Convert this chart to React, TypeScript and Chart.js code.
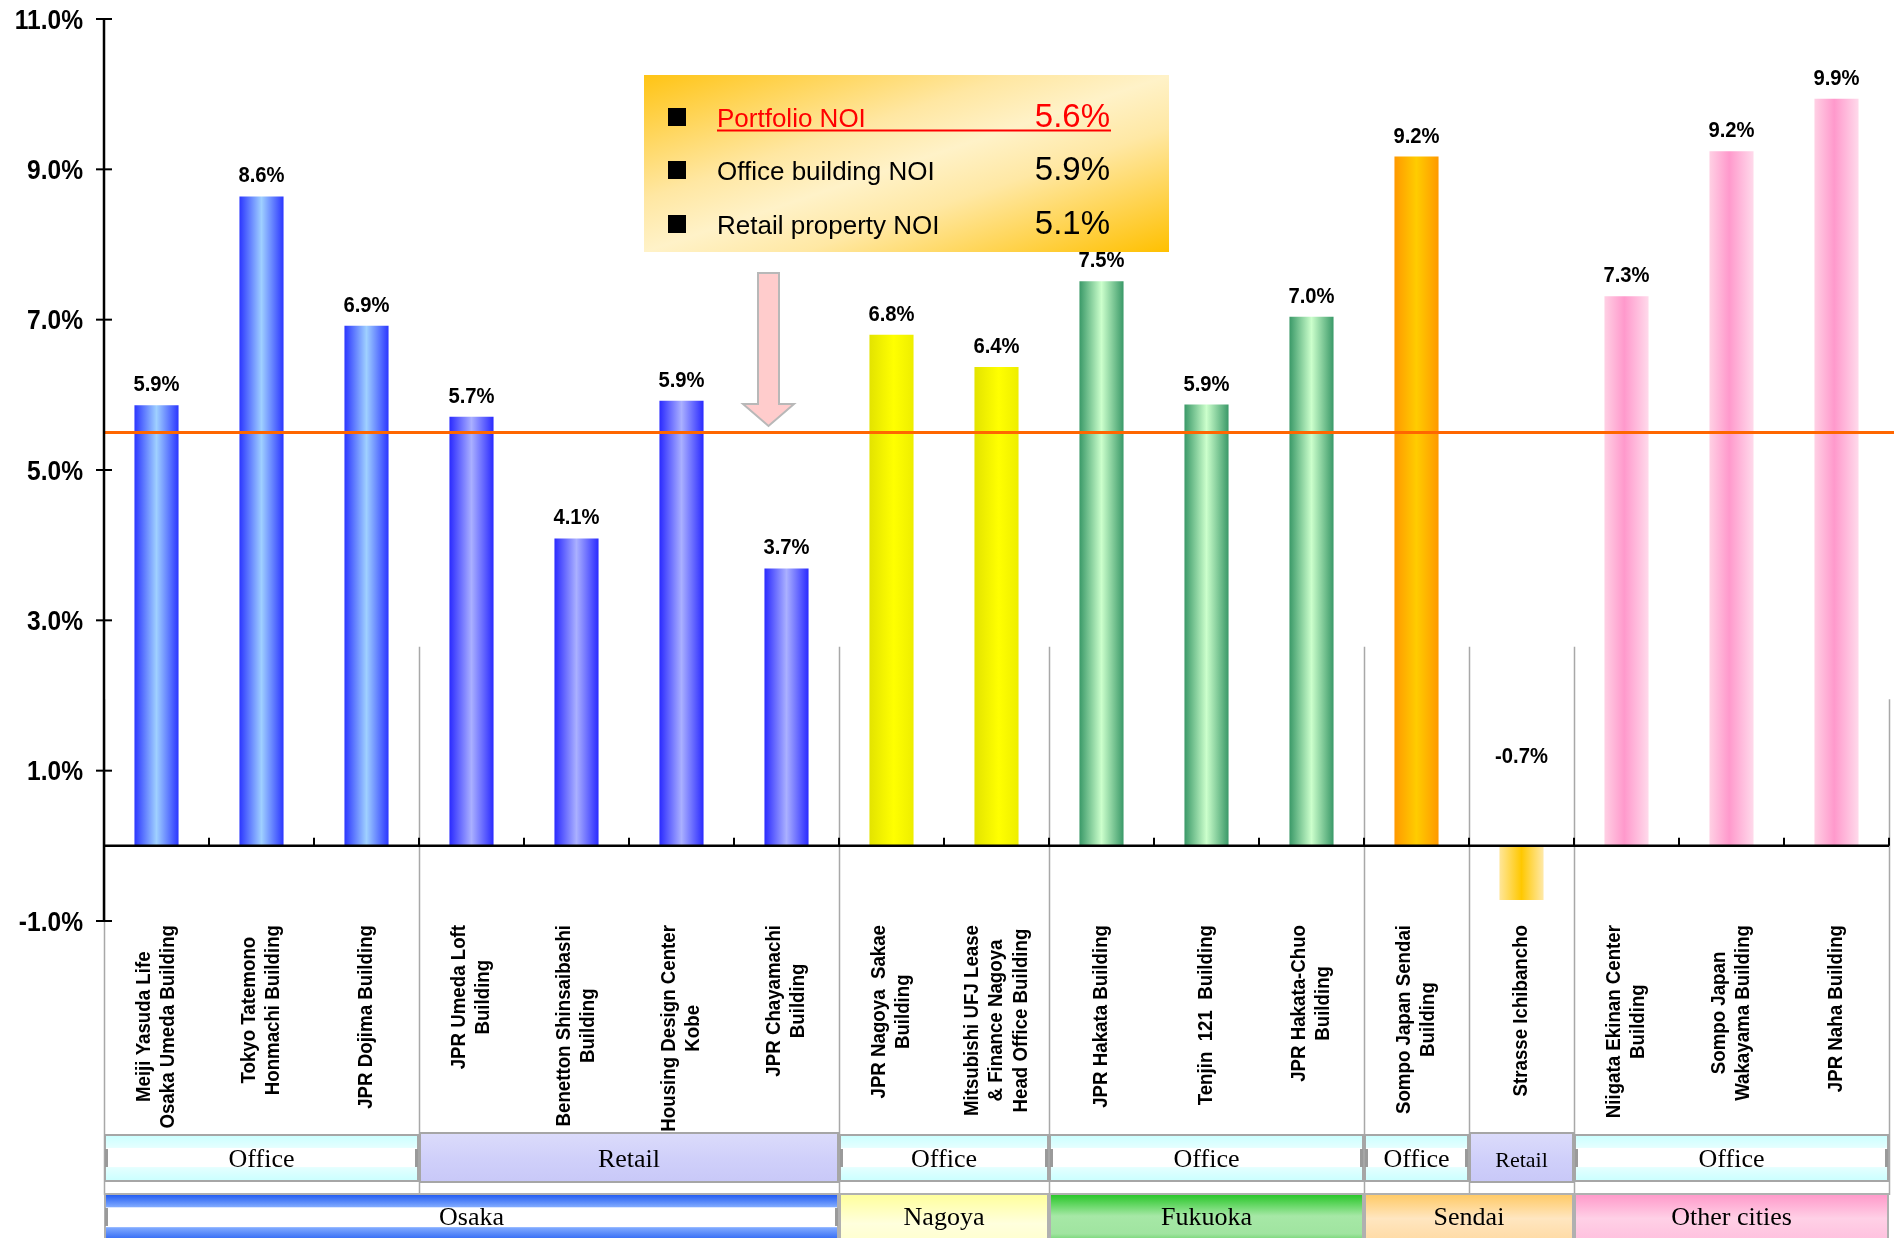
import React, { useEffect, useRef } from 'react';
import { Chart, registerables } from 'chart.js';

Chart.register(...registerables);

// ---------------- data ----------------
const propertyNames: string[][] = [
  ['Meiji Yasuda Life', 'Osaka Umeda Building'],
  ['Tokyo Tatemono', 'Honmachi Building'],
  ['JPR Dojima Building'],
  ['JPR Umeda Loft', 'Building'],
  ['Benetton Shinsaibashi', 'Building'],
  ['Housing Design Center', 'Kobe'],
  ['JPR Chayamachi', 'Building'],
  ['JPR Nagoya  Sakae', 'Building'],
  ['Mitsubishi UFJ Lease', '& Finance Nagoya', 'Head Office Building'],
  ['JPR Hakata Building'],
  ['Tenjin  121  Building'],
  ['JPR Hakata-Chuo', 'Building'],
  ['Sompo Japan Sendai', 'Building'],
  ['Strasse Ichibancho'],
  ['Niigata Ekinan Center', 'Building'],
  ['Sompo Japan', 'Wakayama Building'],
  ['JPR Naha Building'],
];
const noiYields = [5.86, 8.64, 6.92, 5.71, 4.09, 5.92, 3.69, 6.8, 6.37, 7.51, 5.87, 7.04, 9.17, -0.72, 7.31, 9.24, 9.94];
const yTickValues = [11, 9, 7, 5, 3, 1, -1];
const portfolioLineValue = 5.5;
const typeLabels = ['Office', 'Retail', 'Office', 'Office', 'Office', 'Retail', 'Office'];
const typeRanges: [number, number][] = [[0, 3], [3, 7], [7, 9], [9, 12], [12, 13], [13, 14], [14, 17]];
const regionLabels = ['Osaka', 'Nagoya', 'Fukuoka', 'Sendai', 'Other cities'];
const regionRanges: [number, number][] = [[0, 7], [7, 9], [9, 12], [12, 14], [14, 17]];
const summaryLabels = ['Portfolio NOI', 'Office building NOI', 'Retail property NOI'];
const summaryValues = ['5.6%', '5.9%', '5.1%'];

// ---------------- styles ----------------
const SANS = '"Liberation Sans", Arial, Helvetica, sans-serif';
const SERIF = '"Liberation Serif", "Times New Roman", serif';

type Grad = [number, string][];
const G_OSAKA_OFFICE: Grad = [[0, '#2b36ff'], [0.5, '#9fd0ff'], [1, '#2b36ff']];
const G_OSAKA_RETAIL: Grad = [[0, '#2a2aff'], [0.5, '#aab0ff'], [1, '#2a2aff']];
const G_NAGOYA: Grad = [[0, '#e3e300'], [0.55, '#ffff00'], [1, '#eeee00']];
const G_FUKUOKA: Grad = [[0, '#3a9968'], [0.5, '#ccffcc'], [1, '#3a9968']];
const G_SENDAI: Grad = [[0, '#ff9900'], [0.5, '#ffcc00'], [1, '#ff9900']];
const G_STRASSE: Grad = [[0, '#ffe699'], [0.5, '#ffc800'], [1, '#ffe9a8']];
const G_OTHER: Grad = [[0, '#ffd0e4'], [0.45, '#ff99cc'], [1, '#ffdaeb']];
const barGradients: Grad[] = [
  G_OSAKA_OFFICE, G_OSAKA_OFFICE, G_OSAKA_OFFICE,
  G_OSAKA_RETAIL, G_OSAKA_RETAIL, G_OSAKA_RETAIL, G_OSAKA_RETAIL,
  G_NAGOYA, G_NAGOYA,
  G_FUKUOKA, G_FUKUOKA, G_FUKUOKA,
  G_SENDAI, G_STRASSE,
  G_OTHER, G_OTHER, G_OTHER,
];
const BAR_PCT = 0.42;

const typeBoxStyles: Record<string, { stops: Grad; y0: number; y1: number; size: number }> = {
  Office: {
    stops: [[0, '#c8ffff'], [0.28, '#e4ffff'], [0.3, '#ffffff'], [0.68, '#ffffff'], [0.7, '#e4ffff'], [1, '#c8ffff']],
    y0: 1134, y1: 1182, size: 26,
  },
  Retail: {
    stops: [[0, '#dcdcfb'], [0.5, '#d0d0fa'], [1, '#c8c8f8']],
    y0: 1132, y1: 1183, size: 26,
  },
};
const regionBoxStyles: Grad[] = [
  [[0, '#1450f0'], [0.27, '#80aaff'], [0.29, '#ffffff'], [0.66, '#ffffff'], [0.68, '#80aaff'], [1, '#1450f0']],
  [[0, '#ffff99'], [0.6, '#ffffdd'], [1, '#ffffcc']],
  [[0, '#1ec41e'], [0.45, '#a6e8a6'], [0.8, '#a0e4a0'], [1, '#55cc55']],
  [[0, '#ffc860'], [0.5, '#ffe6c0'], [1, '#ffd9a0']],
  [[0, '#ff96c8'], [0.5, '#ffd0e6'], [1, '#ffbedd']],
];

function fillScaled(ctx: CanvasRenderingContext2D, text: string, x: number, y: number, sx: number, align: CanvasTextAlign) {
  ctx.save();
  ctx.translate(x, y);
  ctx.scale(sx, 1);
  ctx.textAlign = align;
  ctx.textBaseline = 'alphabetic';
  ctx.fillText(text, 0, 0);
  ctx.restore();
}

function drawBox(ctx: CanvasRenderingContext2D, x0: number, x1: number, y0: number, y1: number, stops: Grad, border: string) {
  const g = ctx.createLinearGradient(0, y0, 0, y1);
  stops.forEach(([o, c]) => g.addColorStop(o, c));
  ctx.fillStyle = g;
  ctx.fillRect(x0, y0, x1 - x0, y1 - y0);
  ctx.strokeStyle = border;
  ctx.lineWidth = 2;
  ctx.strokeRect(x0 + 1, y0 + 1, x1 - x0 - 2, y1 - y0 - 2);
}

const decorPlugin = {
  id: 'decor',
  beforeDatasetsDraw(chart: any) {
    const ctx: CanvasRenderingContext2D = chart.ctx;
    const xs = chart.scales.x;
    const ys = chart.scales.y;
    const innerTop = ys.getPixelForValue(2.65);
    const outerTop = ys.getPixelForValue(1.95);
    const bounds = new Set<number>();
    typeRanges.forEach(([a, b]) => { bounds.add(a); bounds.add(b); });
    ctx.save();
    ctx.strokeStyle = '#a8a8a8';
    ctx.lineWidth = 1.5;
    bounds.forEach((b) => {
      const x = Math.round(xs.getPixelForValue(b - 0.5)) + 0.5;
      const top = b === 0 || b === propertyNames.length ? outerTop : innerTop;
      ctx.beginPath();
      ctx.moveTo(x, top);
      ctx.lineTo(x, 1195);
      ctx.stroke();
    });
    ctx.restore();
  },
  afterDatasetsDraw(chart: any) {
    const ctx: CanvasRenderingContext2D = chart.ctx;
    const xs = chart.scales.x;
    const ys = chart.scales.y;
    const area = chart.chartArea;
    const n = propertyNames.length;
    const y0 = ys.getPixelForValue(0);
    ctx.save();

    // portfolio average line
    const ly = ys.getPixelForValue(portfolioLineValue);
    ctx.strokeStyle = '#ff6600';
    ctx.lineWidth = 3;
    ctx.beginPath();
    ctx.moveTo(area.left, ly);
    ctx.lineTo(chart.width, ly);
    ctx.stroke();

    // y axis
    ctx.strokeStyle = '#000';
    ctx.lineWidth = 2.5;
    ctx.beginPath();
    ctx.moveTo(area.left, ys.getPixelForValue(yTickValues[0]));
    ctx.lineTo(area.left, ys.getPixelForValue(yTickValues[yTickValues.length - 1]));
    ctx.stroke();
    ctx.lineWidth = 2;
    ctx.fillStyle = '#000';
    ctx.font = `bold 27px ${SANS}`;
    yTickValues.forEach((v) => {
      const py = ys.getPixelForValue(v);
      ctx.beginPath();
      ctx.moveTo(area.left - 8, py);
      ctx.lineTo(area.left + 8, py);
      ctx.stroke();
      fillScaled(ctx, `${v.toFixed(1)}%`, area.left - 21, py + 9.7, 0.91, 'right');
    });

    // zero axis
    ctx.lineWidth = 2.5;
    ctx.beginPath();
    ctx.moveTo(area.left, y0);
    ctx.lineTo(area.right, y0);
    ctx.stroke();
    ctx.lineWidth = 2;
    for (let i = 1; i <= n; i++) {
      const px = xs.getPixelForValue(i - 0.5);
      ctx.beginPath();
      ctx.moveTo(px, y0 - 8);
      ctx.lineTo(px, y0);
      ctx.stroke();
    }

    // value labels
    ctx.font = `bold 21.5px ${SANS}`;
    noiYields.forEach((v, i) => {
      const px = xs.getPixelForValue(i);
      const txt = `${v.toFixed(1)}%`;
      const by = v >= 0 ? ys.getPixelForValue(v) - 14 : ys.getPixelForValue(1.1);
      fillScaled(ctx, txt, px, by, 0.94, 'center');
    });

    // category labels (rotated)
    propertyNames.forEach((lines, i) => {
      const cx = xs.getPixelForValue(i);
      ctx.font = `bold 21px ${SANS}`;
      const maxW = Math.max(...lines.map((l) => ctx.measureText(l).width)) * 0.89;
      const yc = 925 + maxW / 2;
      lines.forEach((l, j) => {
        const bx = cx + (j - (lines.length - 1) / 2) * 24.5 + 5.5;
        ctx.save();
        ctx.translate(bx, yc);
        ctx.rotate(-Math.PI / 2);
        ctx.scale(0.89, 1);
        ctx.textAlign = 'center';
        ctx.textBaseline = 'alphabetic';
        ctx.fillText(l, 0, 0);
        ctx.restore();
      });
    });

    // type boxes
    typeRanges.forEach(([a, b], k) => {
      const st = typeBoxStyles[typeLabels[k]];
      const x0 = xs.getPixelForValue(a - 0.5);
      const x1 = xs.getPixelForValue(b - 0.5);
      drawBox(ctx, x0, x1, st.y0, st.y1, st.stops, '#a6a6a6');
      if (typeLabels[k] === 'Office') {
        ctx.fillStyle = '#9a9a9a';
        ctx.fillRect(x0 + 1, 1149, 3, 18);
        ctx.fillRect(x1 - 4, 1149, 3, 18);
      }
      ctx.fillStyle = '#000';
      const size = b - a === 1 && typeLabels[k] === 'Retail' ? 22 : st.size;
      ctx.font = `${size}px ${SERIF}`;
      ctx.textAlign = 'center';
      ctx.textBaseline = 'alphabetic';
      ctx.fillText(typeLabels[k], (x0 + x1) / 2, 1167);
    });

    // region boxes
    regionRanges.forEach(([a, b], k) => {
      const x0 = xs.getPixelForValue(a - 0.5);
      const x1 = xs.getPixelForValue(b - 0.5);
      drawBox(ctx, x0, x1, 1193, 1244, regionBoxStyles[k], '#b0b0b0');
      if (k === 0) {
        ctx.fillStyle = '#9a9a9a';
        ctx.fillRect(x0 + 1, 1208, 3, 18);
        ctx.fillRect(x1 - 4, 1208, 3, 18);
      }
      ctx.fillStyle = '#000';
      ctx.font = `26px ${SERIF}`;
      ctx.textAlign = 'center';
      ctx.textBaseline = 'alphabetic';
      ctx.fillText(regionLabels[k], (x0 + x1) / 2, 1225);
    });

    // arrow annotation
    ctx.beginPath();
    const pts = [[758, 273], [779, 273], [779, 404], [794, 404], [768.5, 426], [743, 404], [758, 404]];
    pts.forEach(([x, y], k) => (k === 0 ? ctx.moveTo(x, y) : ctx.lineTo(x, y)));
    ctx.closePath();
    ctx.fillStyle = '#ffcccc';
    ctx.fill();
    ctx.strokeStyle = '#b8b8b8';
    ctx.lineWidth = 2;
    ctx.stroke();

    // summary box
    const bx0 = 644, by0 = 75, bx1 = 1169, by1 = 252;
    const lg = ctx.createLinearGradient(bx0, by0, bx0 + 107, by0 + 318);
    lg.addColorStop(0, '#ffc414');
    lg.addColorStop(0.35, '#ffe7a2');
    lg.addColorStop(0.5, '#fff2c8');
    lg.addColorStop(0.65, '#ffe8a4');
    lg.addColorStop(1, '#ffc000');
    ctx.fillStyle = lg;
    ctx.fillRect(bx0, by0, bx1 - bx0, by1 - by0);
    const baselines = [127, 180, 234];
    summaryLabels.forEach((lab, k) => {
      const bl = baselines[k];
      ctx.fillStyle = '#000';
      ctx.fillRect(668, bl - 19, 18, 18);
      const col = k === 0 ? '#ff0000' : '#000000';
      ctx.fillStyle = col;
      ctx.font = `26px ${SANS}`;
      ctx.textAlign = 'left';
      ctx.textBaseline = 'alphabetic';
      ctx.fillText(lab, 717, bl);
      ctx.font = `33px ${SANS}`;
      ctx.textAlign = 'right';
      ctx.fillText(summaryValues[k], 1110, bl);
      if (k === 0) {
        ctx.strokeStyle = '#ff0000';
        ctx.lineWidth = 2;
        ctx.beginPath();
        ctx.moveTo(717, bl + 3.5);
        ctx.lineTo(1111, bl + 3.5);
        ctx.stroke();
      }
    });

    ctx.restore();
  },
};

export default function App() {
  const canvasRef = useRef<HTMLCanvasElement | null>(null);

  useEffect(() => {
    document.body.style.margin = '0';
    const canvas = canvasRef.current;
    if (!canvas) return;
    const chart = new Chart(canvas, {
      type: 'bar',
      data: {
        labels: propertyNames.map((l) => l.join(' ')),
        datasets: [
          {
            data: noiYields,
            borderWidth: 0,
            barPercentage: BAR_PCT,
            categoryPercentage: 1,
            backgroundColor: (c: any) => {
              const ch = c.chart;
              const i = c.dataIndex;
              const stops = barGradients[i] || G_OSAKA_OFFICE;
              if (i === undefined || !ch.chartArea) return stops[1][1];
              const xs = ch.scales.x;
              const cx = xs.getPixelForValue(i);
              const w = (xs.width / propertyNames.length) * BAR_PCT;
              const g = ch.ctx.createLinearGradient(cx - w / 2, 0, cx + w / 2, 0);
              stops.forEach(([o, col]) => g.addColorStop(o, col));
              return g;
            },
          },
        ],
      },
      options: {
        responsive: false,
        animation: false,
        devicePixelRatio: 1,
        layout: { padding: { left: 104, right: 5, top: 19, bottom: 317 } },
        scales: {
          x: { display: false },
          y: { display: false, min: -1, max: 11 },
        },
        plugins: {
          legend: { display: false },
          tooltip: { enabled: false },
        },
      },
      plugins: [decorPlugin],
    });
    return () => chart.destroy();
  }, []);

  return <canvas ref={canvasRef} width={1894} height={1238} style={{ display: 'block' }} />;
}
